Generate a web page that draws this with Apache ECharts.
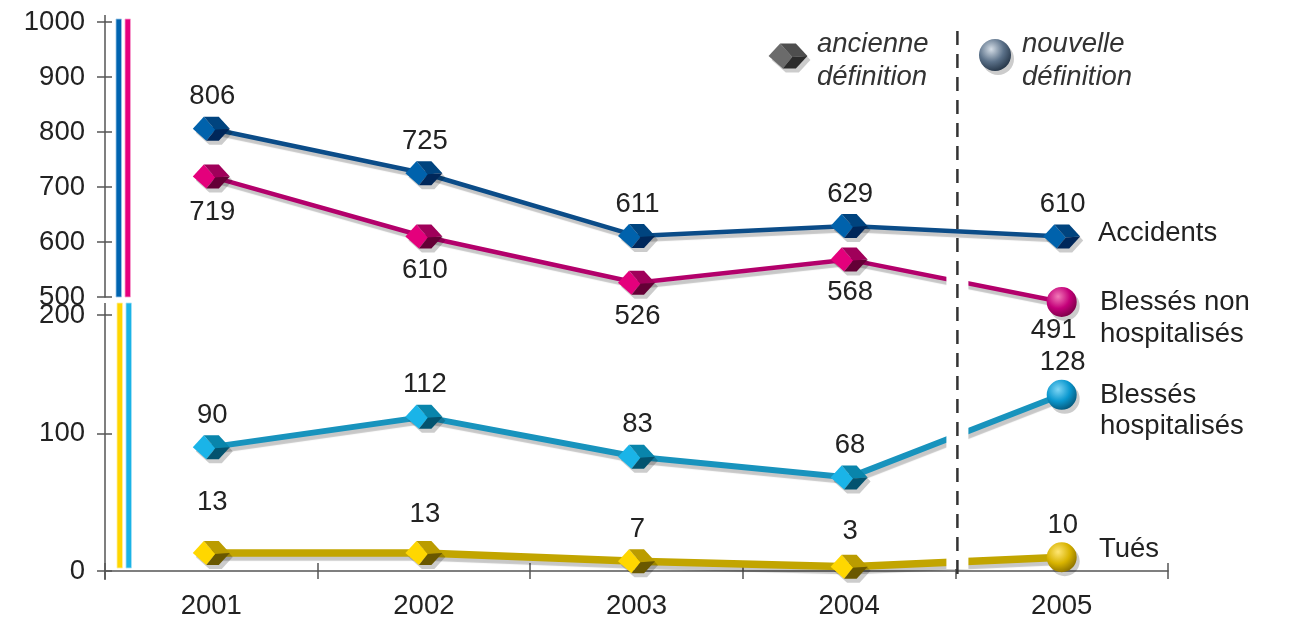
<!DOCTYPE html>
<html><head><meta charset="utf-8">
<script src="https://cdn.jsdelivr.net/npm/echarts@6/dist/echarts.min.js"></script>
<style>html,body{margin:0;padding:0;background:#fff}#c{width:1297px;height:624px}</style>
</head><body><div id="c"></div>
<script>
// ---- data ----
const categories = ['2001', '2002', '2003', '2004', '2005'];
const accidents = [806, 725, 611, 629, 610];
const blessesNonHosp = [719, 610, 526, 568, 491];
const blessesHosp = [90, 112, 83, 68, 128];
const tues = [13, 13, 7, 3, 10];
const seriesNames = ['Accidents', 'Blessés non\nhospitalisés', 'Blessés\nhospitalisés', 'Tués'];
const topTicks = [500, 600, 700, 800, 900, 1000];
const bottomTicks = [0, 100, 200];
const legendTexts = ['ancienne\ndéfinition', 'nouvelle\ndéfinition'];

// ---- styles ----
const FONT = '"Liberation Sans", Arial, Helvetica, sans-serif';
const FS = 27.5;
const TXT = '#222';
const AX = '#555';
// the bottom panel's upper tick sits lower than its printed value in the source chart
const BOTTOM_AXIS_TOP = 186;

const chart = echarts.init(document.getElementById('c'), null, {renderer: 'canvas'});

function cube(cx, cy, s, col) {
  const P = (x, y) => [cx + x * s, cy + y * s];
  const L = P(-18.5, 0), TL = P(-7.5, -12), TR = P(7.5, -12), R = P(18.5, 0), BR = P(7.5, 12), BL = P(-5, 12), I = P(4, 1);
  const hex = [L, TL, TR, R, BR, BL];
  return [
    {type: 'polygon', shape: {points: hex.map(p => [p[0] + 3, p[1] + 4])}, style: {fill: 'rgba(0,0,0,0.2)'}},
    {type: 'polygon', shape: {points: [L, TL, I, BL]}, style: {fill: col[0]}},
    {type: 'polygon', shape: {points: [TL, TR, R, I]}, style: {fill: col[1]}},
    {type: 'polygon', shape: {points: [I, R, BR, BL]}, style: {fill: col[2]}}
  ];
}
function sphere(cx, cy, r, col) {
  return [
    {type: 'circle', shape: {cx: cx + 3, cy: cy + 4, r: r}, style: {fill: 'rgba(0,0,0,0.2)'}},
    {type: 'circle', shape: {cx: cx, cy: cy, r: r}, style: {fill: {
      type: 'radial', x: 0.38, y: 0.32, r: 0.72,
      colorStops: [{offset: 0, color: col[0]}, {offset: 0.55, color: col[1]}, {offset: 1, color: col[2]}]
    }}}
  ];
}

function markerSeries(values, axisIdx, cubeCol, sphereCol, labelDy, labelDx) {
  return {
    type: 'custom', xAxisIndex: axisIdx, yAxisIndex: axisIdx, z: 5, clip: false,
    data: values.map((v, i) => [i, v]),
    renderItem: function (params, api) {
      const i = api.value(0), v = api.value(1);
      const p = api.coord([i, v]);
      const children = (sphereCol && i === 4) ? sphere(p[0], p[1], 15, sphereCol) : cube(p[0], p[1], 1, cubeCol);
      const dy = Array.isArray(labelDy) ? labelDy[i] : labelDy;
      const dx = Array.isArray(labelDx) ? labelDx[i] : (labelDx || 0);
      children.push({type: 'text', style: {text: String(v), x: p[0] + dx, y: p[1] + dy,
        align: 'center', verticalAlign: 'middle', fontSize: FS, fontFamily: FONT, fill: TXT}});
      return {type: 'group', children: children};
    }
  };
}

function lineSeries(name, values, axisIdx, color, width) {
  return {
    name: name, type: 'line', xAxisIndex: axisIdx, yAxisIndex: axisIdx, data: values,
    symbol: 'none', clip: false, z: 2, silent: true,
    lineStyle: {color: color, width: width, shadowColor: 'rgba(0,0,0,0.22)', shadowBlur: 1, shadowOffsetX: 2, shadowOffsetY: 4}
  };
}

const yCommon = {
  type: 'value', position: 'left',
  axisLine: {show: true, lineStyle: {color: AX, width: 1.5}},
  axisTick: {show: true, length: 8, lineStyle: {color: AX, width: 1.5}},
  axisLabel: {color: TXT, fontSize: FS, fontFamily: FONT, margin: 20, formatter: v => String(v)},
  splitLine: {show: false}
};
const yInner = {
  type: 'value', position: 'left',
  axisLine: {show: false}, axisLabel: {show: false}, splitLine: {show: false},
  axisTick: {show: true, inside: true, length: 7, lineStyle: {color: AX, width: 1.5}}
};

const option = {
  backgroundColor: '#fff',
  animation: false,
  grid: [
    {left: 105, top: 22, width: 1063, height: 275},
    {left: 105, top: 315, width: 1063, height: 256}
  ],
  xAxis: [
    {type: 'category', gridIndex: 0, data: categories, boundaryGap: true, show: false},
    {type: 'category', gridIndex: 1, data: categories, boundaryGap: true, position: 'bottom',
      axisLine: {lineStyle: {color: AX, width: 1.5}},
      axisTick: {show: true, length: 8, alignWithLabel: false, lineStyle: {color: AX, width: 1.5}},
      axisLabel: {color: TXT, fontSize: FS, fontFamily: FONT, margin: 21}},
    {type: 'category', gridIndex: 1, data: categories, boundaryGap: true, position: 'bottom',
      axisLine: {show: false}, axisLabel: {show: false},
      axisTick: {show: true, inside: true, length: 8, lineStyle: {color: AX, width: 1.5}}}
  ],
  yAxis: [
    Object.assign({}, yCommon, {gridIndex: 0, min: topTicks[0], max: topTicks[topTicks.length - 1], interval: 100}),
    Object.assign({}, yCommon, {gridIndex: 1, min: bottomTicks[0], max: BOTTOM_AXIS_TOP, interval: 100,
      axisLabel: Object.assign({}, yCommon.axisLabel, {formatter: v => v >= BOTTOM_AXIS_TOP ? String(bottomTicks[2]) : String(v)})}),
    Object.assign({}, yInner, {gridIndex: 0, min: topTicks[0], max: topTicks[topTicks.length - 1], interval: 100}),
    Object.assign({}, yInner, {gridIndex: 1, min: bottomTicks[0], max: BOTTOM_AXIS_TOP, interval: 100})
  ],
  series: [
    lineSeries(seriesNames[0], accidents, 0, '#0b4c88', 4.5),
    lineSeries(seriesNames[1], blessesNonHosp, 0, '#b3006b', 4.5),
    lineSeries(seriesNames[2], blessesHosp, 1, '#1893bd', 6),
    lineSeries(seriesNames[3], tues, 1, '#c2a500', 7.5),
    markerSeries(accidents, 0, ['#0062ac', '#00447f', '#00275a'], null, -32, 1),
    markerSeries(blessesNonHosp, 0, ['#e4007c', '#a0005a', '#640036'], ['#f27ab8', '#c4007a', '#7a0046'], [36, 34, 34, 33, 28], [1, 1, 1, 1, -8]),
    markerSeries(blessesHosp, 1, ['#1ab4e8', '#0985ab', '#03536f'], ['#7fd6f5', '#0b98cf', '#05577a'], -32, 1),
    markerSeries(tues, 1, ['#ffd700', '#bb9c00', '#6a5800'], ['#ffe673', '#d8b300', '#8a7000'], [-51, -39, -32, -35, -32], 1)
  ]
};
chart.setOption(option);

// decorations
const xa = chart.convertToPixel({xAxisIndex: 1}, 3);
const xb = chart.convertToPixel({xAxisIndex: 1}, 4);
const xDash = (xa + xb) / 2 + 2;
const yTopGrid = chart.convertToPixel({yAxisIndex: 0}, 500);
const yBot0 = chart.convertToPixel({yAxisIndex: 1}, 0);
const yBotTop = chart.convertToPixel({yAxisIndex: 1}, BOTTOM_AXIS_TOP);

const legendCube = cube(788, 56, 1.05, ['#6b6b6b', '#4e4e4e', '#2b2b2b']);
const legendSphere = sphere(995, 55, 16, ['#d4dde6', '#5b7189', '#243446']);

const endLabel = (txt, x, y, lh) => ({type: 'text', z: 20, style: {text: txt, x: x, y: y, align: 'left', verticalAlign: 'middle',
  fontSize: FS, fontFamily: FONT, fill: TXT, lineHeight: lh || 31}});

const graphic = [
  // colour bars at the axis
  {type: 'rect', z: 1, shape: {x: 116, y: 19, width: 5.5, height: yTopGrid - 19}, style: {fill: '#0064b0', stroke: '#9cc6e8', lineWidth: 0.8}},
  {type: 'rect', z: 1, shape: {x: 125, y: 19, width: 5.5, height: yTopGrid - 19}, style: {fill: '#e6007e', stroke: '#f5a3cf', lineWidth: 0.8}},
  {type: 'rect', z: 1, shape: {x: 117, y: 303, width: 5.5, height: yBot0 - 3 - 303}, style: {fill: '#ffd600', stroke: '#fff0a0', lineWidth: 0.8}},
  {type: 'rect', z: 1, shape: {x: 126, y: 303, width: 5.5, height: yBot0 - 3 - 303}, style: {fill: '#1cb3e6', stroke: '#a8e2f5', lineWidth: 0.8}},
  // axis extensions
  {type: 'line', z: 1, shape: {x1: 105, y1: 15, x2: 105, y2: 22}, style: {stroke: AX, lineWidth: 1.5}},
  {type: 'line', z: 1, shape: {x1: 105, y1: 303, x2: 105, y2: yBotTop}, style: {stroke: AX, lineWidth: 1.5}},
  {type: 'line', z: 1, shape: {x1: 105, y1: yBot0, x2: 105, y2: yBot0 + 9}, style: {stroke: AX, lineWidth: 1.5}},
  // gap in the lines at the change of definition
  {type: 'rect', z: 10, shape: {x: xDash - 11, y: 245, width: 22, height: yBot0 - 2 - 245}, style: {fill: '#fff'}},
  // dashed separator
  {type: 'line', z: 11, shape: {x1: xDash, y1: 31, x2: xDash, y2: yBot0 + 8}, style: {stroke: '#333', lineWidth: 2.5, lineDash: [14, 9]}},
  // legend
  {type: 'group', z: 20, children: legendCube},
  {type: 'text', z: 20, style: {text: legendTexts[0], x: 817, y: 61, align: 'left', verticalAlign: 'middle',
    fontSize: FS, fontStyle: 'italic', fontFamily: FONT, fill: '#333', lineHeight: 33}},
  {type: 'group', z: 20, children: legendSphere},
  {type: 'text', z: 20, style: {text: legendTexts[1], x: 1022, y: 61, align: 'left', verticalAlign: 'middle',
    fontSize: FS, fontStyle: 'italic', fontFamily: FONT, fill: '#333', lineHeight: 33}},
  // end labels
  endLabel(seriesNames[0], 1098, 233),
  endLabel(seriesNames[1], 1100, 318, 32),
  endLabel(seriesNames[2], 1100, 411, 31),
  endLabel(seriesNames[3], 1099, 549)
];
chart.setOption({graphic: graphic});
</script>
</body></html>
